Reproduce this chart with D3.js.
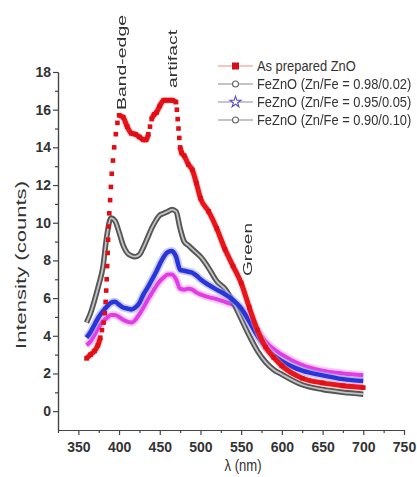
<!DOCTYPE html>
<html>
<head>
<meta charset="utf-8">
<script src="https://cdn.jsdelivr.net/npm/d3@7"></script>
<style>
body { margin: 0; background: #fff; }
svg text { font-family: "Liberation Sans", Arial, sans-serif; }
</style>
</head>
<body>
<div id="chart"></div>
<script>
// common wavelength grid (nm) for the FeZnO series
var wl = [360,365,370,375,380,385,390,395,400,405,410,415,420,425,430,435,440,445,450,455,460,465,470,475,480,485,490,495,500,510,520,530,540,550,560,570,580,590,600,625,650,675,700];
var fe098 = [3.5,3.7,4.05,4.45,4.75,4.95,5.1,5.1,5.0,4.85,4.75,4.7,4.85,5.15,5.5,5.9,6.25,6.6,6.9,7.1,7.25,7.25,7.0,6.5,6.45,6.5,6.45,6.3,6.2,6.05,5.95,5.8,5.65,5.4,4.9,4.3,3.7,3.3,3.0,2.45,2.15,2.0,1.9];
var fe095 = [3.9,4.2,4.6,5.0,5.3,5.55,5.75,5.8,5.65,5.5,5.45,5.4,5.5,5.75,6.2,6.55,6.95,7.35,7.8,8.2,8.45,8.5,8.2,7.5,7.45,7.4,7.35,7.2,7.0,6.7,6.45,6.2,5.9,5.45,4.75,4.0,3.4,2.95,2.65,2.15,1.9,1.7,1.6];
var fe090 = [4.7,5.2,5.9,6.7,7.6,9.3,10.25,10.1,9.5,8.8,8.4,8.25,8.2,8.3,8.7,9.2,9.7,10.1,10.4,10.5,10.6,10.7,10.6,9.7,9.0,8.8,8.6,8.4,8.2,7.6,6.9,6.5,5.8,4.9,4.0,3.2,2.6,2.2,1.95,1.4,1.15,1.0,0.9];

// as prepared ZnO, read more densely where the curve is steep
var znoWl = [360,365,370,374,377,379,381,382.5,383.5,384.2,384.8,385.4,386,386.6,387.3,388,389,390,391,392.5,394,396,398,400,405,410,415,420,425,430,433,436,438,440,443,446,450,455,460,465,470,471,472,473,474,475,477,480,485,490,495,500,510,520,530,540,550,560,570,580,590,600,625,650,675,700];
var znoInt = [2.8,3.0,3.2,3.5,3.9,4.3,4.7,5.2,5.8,6.4,7.0,7.7,8.4,9.1,9.8,10.5,11.2,11.9,12.6,13.3,14.0,14.7,15.3,15.7,15.6,15.1,14.75,14.7,14.55,14.4,14.4,14.7,15.1,15.5,15.75,15.85,16.2,16.5,16.5,16.5,16.4,16.0,15.5,15.0,14.5,14.0,13.7,13.55,13.1,12.8,12.1,11.3,10.6,9.7,8.6,7.7,6.8,5.5,4.3,3.4,2.85,2.4,1.75,1.5,1.35,1.25];

var xTicks = [350,400,450,500,550,600,650,700,750];
var xMinor = [325,375,425,475,525,575,625,675,725];
var yTicks = [0,2,4,6,8,10,12,14,16,18];
var yMinor = [1,3,5,7,9,11,13,15,17];

var legendLabels = ["As prepared ZnO", "FeZnO (Zn/Fe = 0.98/0.02)", "FeZnO (Zn/Fe = 0.95/0.05)", "FeZnO (Zn/Fe = 0.90/0.10)"];
var notes = [
  {text: "Band-edge", x: 125.5, y: 110, len: 95, size: 12},
  {text: "artifact", x: 177, y: 88, len: 58, size: 13},
  {text: "Green", x: 252, y: 276, len: 53, size: 13.5}
];

var svg = d3.select("#chart").append("svg").attr("width", 417).attr("height", 477);

var x = d3.scaleLinear().domain([325, 750]).range([58, 404]);
var y = d3.scaleLinear().domain([-1, 18]).range([430, 72]);

// axes
function styleAxis(g) {
  g.selectAll("path, line").attr("stroke", "#444").attr("stroke-width", 1.2);
  g.selectAll("text").attr("fill", "#333").attr("font-size", 14).attr("font-weight", "bold")
    .style("font-family", "'Liberation Sans', Arial, sans-serif");
}
svg.append("g").attr("transform", "translate(0,430)")
  .call(d3.axisBottom(x).tickValues(xTicks).tickSize(5).tickSizeOuter(0).tickPadding(7))
  .call(styleAxis);
svg.append("g").attr("transform", "translate(0,430)")
  .call(d3.axisBottom(x).tickValues(xMinor).tickSize(3).tickSizeOuter(0).tickFormat(""))
  .call(styleAxis);
svg.append("g").attr("transform", "translate(58,0)")
  .call(d3.axisLeft(y).tickValues(yTicks).tickSize(5).tickSizeOuter(0).tickPadding(2))
  .call(styleAxis);
svg.append("g").attr("transform", "translate(58,0)")
  .call(d3.axisLeft(y).tickValues(yMinor).tickSize(3).tickSizeOuter(0).tickFormat(""))
  .call(styleAxis);

svg.append("text").attr("transform", "translate(25.5,265) rotate(-90)").attr("text-anchor", "middle")
  .attr("font-size", 15).attr("fill", "#333").attr("textLength", 168).attr("lengthAdjust", "spacingAndGlyphs")
  .text("Intensity (counts)");
svg.append("text").attr("x", 243).attr("y", 471).attr("text-anchor", "middle")
  .attr("font-size", 17).attr("fill", "#333").attr("textLength", 37).attr("lengthAdjust", "spacingAndGlyphs")
  .text("λ (nm)");

// series
var defs = svg.append("defs");
defs.append("filter").attr("id", "soft").append("feGaussianBlur").attr("stdDeviation", 0.5);

var line = d3.line().x(d => x(d[0])).y(d => y(d[1])).curve(d3.curveMonotoneX);
var plot = svg.append("g").attr("filter", "url(#soft)");

function pts(vals) { return wl.map((w, i) => [w, vals[i]]); }

plot.append("path").datum(pts(fe098)).attr("d", line).attr("fill", "none").attr("stroke", "#f3a6f3").attr("stroke-width", 8).attr("opacity", 0.6);
plot.append("path").datum(pts(fe098)).attr("d", line).attr("fill", "none").attr("stroke", "#e03ce6").attr("stroke-width", 4);

plot.append("path").datum(pts(fe090)).attr("d", line).attr("fill", "none").attr("stroke", "#555").attr("stroke-width", 5.5);
plot.append("path").datum(pts(fe090)).attr("d", line).attr("fill", "none").attr("stroke", "#c4c4c4").attr("stroke-width", 1.8);

plot.append("path").datum(pts(fe095)).attr("d", line).attr("fill", "none").attr("stroke", "#9da2ff").attr("stroke-width", 8).attr("opacity", 0.55);
plot.append("path").datum(pts(fe095)).attr("d", line).attr("fill", "none").attr("stroke", "#2b35d8").attr("stroke-width", 4.5);

// red: squares at every point, line only where the curve is not too steep
var zno = znoWl.map((w, i) => [w, znoInt[i]]);
var runs = [[zno[0]]];
for (var i = 1; i < zno.length; i++) {
  var dx = x(zno[i][0]) - x(zno[i - 1][0]), dy = Math.abs(y(zno[i][1]) - y(zno[i - 1][1]));
  if (dy / dx > 4.5) runs.push([zno[i]]); else runs[runs.length - 1].push(zno[i]);
}
plot.selectAll(".znoGlow").data(runs.filter(r => r.length > 1)).join("path").attr("d", line)
  .attr("fill", "none").attr("stroke", "#f7a3a3").attr("stroke-width", 7).attr("opacity", 0.5);
plot.selectAll(".znoLine").data(runs.filter(r => r.length > 1)).join("path").attr("d", line)
  .attr("fill", "none").attr("stroke", "#e8141c").attr("stroke-width", 5);
plot.selectAll(".znoPt").data(zno).join("rect")
  .attr("x", d => x(d[0]) - 2.3).attr("y", d => y(d[1]) - 2.3).attr("width", 4.6).attr("height", 4.6)
  .attr("fill", "#e01018");

// rotated annotations
notes.forEach(function(n) {
  svg.append("text").attr("transform", `translate(${n.x},${n.y}) rotate(-90)`)
    .attr("font-size", n.size).attr("fill", "#333").attr("textLength", n.len).attr("lengthAdjust", "spacingAndGlyphs")
    .text(n.text);
});

// legend (text squeezed horizontally like the source figure)
var legendY = [66, 84, 102, 120];
var lineCols = ["#ef8a8a", "#8a8a8a", "#8a8aa6", "#8a8a8a"];
var leg = svg.append("g");
legendLabels.forEach(function(lab, i) {
  var ly = legendY[i];
  leg.append("line").attr("x1", 218).attr("x2", 253).attr("y1", ly).attr("y2", ly).attr("stroke", lineCols[i]).attr("stroke-width", 1.2);
  if (i == 0) {
    leg.append("rect").attr("x", 232).attr("y", ly - 3.5).attr("width", 7).attr("height", 7).attr("fill", "#d0101a");
  } else if (i == 2) {
    leg.append("path").attr("d", d3.symbol(d3.symbolStar, 38)()).attr("transform", `translate(235.5,${ly})`)
      .attr("fill", "#fff").attr("stroke", "#5a50c0").attr("stroke-width", 1.1);
  } else {
    leg.append("circle").attr("cx", 235.5).attr("cy", ly).attr("r", 3).attr("fill", "#fff").attr("stroke", "#666").attr("stroke-width", 1.1);
  }
  leg.append("text").attr("transform", `translate(257,${ly + 5}) scale(0.86,1)`).attr("font-size", 15).attr("fill", "#333")
    .text(lab);
});
</script>
</body>
</html>
